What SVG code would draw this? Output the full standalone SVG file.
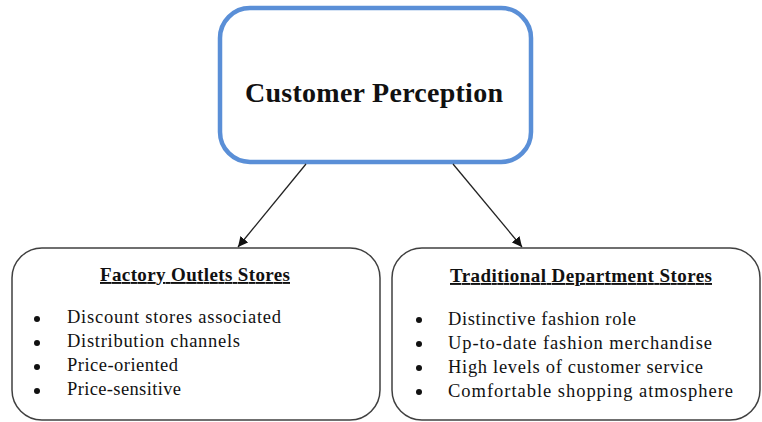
<svg xmlns="http://www.w3.org/2000/svg" width="762" height="422" viewBox="0 0 762 422">
  <style>
    .box { fill: #fff; stroke: #404040; stroke-width: 1.5; }
    .main { fill: #fff; stroke: #5a8fd7; stroke-width: 4.5; }
    .t { font-family: "Liberation Serif", "Times New Roman", serif; fill: #111; }
    .title { font-size: 28px; font-weight: bold; }
    .head { font-size: 19px; font-weight: bold; text-decoration: underline; }
    .item { font-size: 18.5px; }
    .conn { stroke: #222; stroke-width: 1.3; fill: none; }
  </style>
  <defs>
    <marker id="ah" viewBox="0 0 10 10" refX="10" refY="5" markerWidth="10" markerHeight="10" markerUnits="userSpaceOnUse" orient="auto">
      <path d="M0,0 L10,5 L0,10 z" fill="#111"/>
    </marker>
  </defs>
  <g id="customer-perception">
    <rect class="main" x="220" y="8" width="311" height="154" rx="30" ry="30"/>
    <text class="t title" x="374" y="102" text-anchor="middle" textLength="258" lengthAdjust="spacing">Customer Perception</text>
  </g>
  <g id="factory-outlets">
    <rect class="box" x="12" y="248" width="368" height="172" rx="30" ry="30"/>
    <text class="t head" x="195" y="281" text-anchor="middle" textLength="190" lengthAdjust="spacing">Factory Outlets Stores</text>
    <g fill="#111">
      <circle cx="37" cy="319" r="3"/>
      <circle cx="37" cy="343" r="3"/>
      <circle cx="37" cy="367" r="3"/>
      <circle cx="37" cy="391" r="3"/>
    </g>
    <text class="t item" x="67" y="323" textLength="214" lengthAdjust="spacing">Discount stores associated</text>
    <text class="t item" x="67" y="347" textLength="173" lengthAdjust="spacing">Distribution channels</text>
    <text class="t item" x="67" y="371" textLength="111" lengthAdjust="spacing">Price-oriented</text>
    <text class="t item" x="67" y="395" textLength="114" lengthAdjust="spacing">Price-sensitive</text>
  </g>
  <g id="traditional-department">
    <rect class="box" x="392" y="248" width="368" height="172" rx="30" ry="30"/>
    <text class="t head" x="581" y="282" text-anchor="middle" textLength="262" lengthAdjust="spacing">Traditional Department Stores</text>
    <g fill="#111">
      <circle cx="419" cy="320" r="3"/>
      <circle cx="419" cy="344" r="3"/>
      <circle cx="419" cy="368" r="3"/>
      <circle cx="419" cy="392" r="3"/>
    </g>
    <text class="t item" x="448" y="325" textLength="188" lengthAdjust="spacing">Distinctive fashion role</text>
    <text class="t item" x="448" y="349" textLength="264" lengthAdjust="spacing">Up-to-date fashion merchandise</text>
    <text class="t item" x="448" y="373" textLength="255" lengthAdjust="spacing">High levels of customer service</text>
    <text class="t item" x="448" y="397" textLength="285" lengthAdjust="spacing">Comfortable shopping atmosphere</text>
  </g>
  <g id="connectors">
    <line class="conn" x1="306" y1="164" x2="238" y2="247" marker-end="url(#ah)"/>
    <line class="conn" x1="453" y1="164" x2="522" y2="247" marker-end="url(#ah)"/>
  </g>
</svg>
